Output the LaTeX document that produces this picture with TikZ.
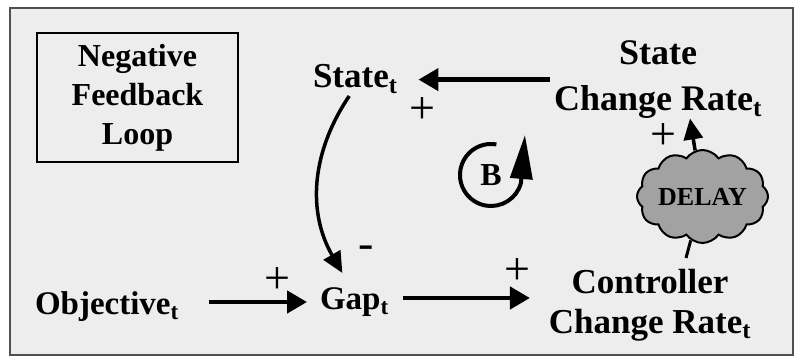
\documentclass[tikz,border=0pt]{standalone}
\usepackage{fontspec}
\setmainfont{Liberation Serif}
\usetikzlibrary{arrows.meta,shapes.symbols}
\definecolor{Panel}{HTML}{EDEDED}
\definecolor{Smoke}{HTML}{A2A2A2}
\definecolor{Rim}{HTML}{505050}
\newcommand{\tsub}{\textsubscript{t}}

\begin{document}
\begin{tikzpicture}[x=1pt,y=1pt,
    lbl/.style={inner sep=0pt,outer sep=0pt,font=\bfseries\fontsize{35}{40}\selectfont},
    sgn/.style={inner sep=0pt,font=\fontsize{46}{46}\selectfont},
    arr/.style={-{Triangle[length=20pt,width=22pt]},line width=4.5pt},
    carr/.style={-{Triangle[length=21pt,width=19pt]},line width=3.5pt}]
  \useasboundingbox (0,0) rectangle (794,358);
  \draw[Rim,line width=1.2pt,fill=Panel] (10,3) rectangle (793,350);
  \node[draw,line width=2pt,minimum width=201pt,minimum height=129pt,align=center,
        font=\bfseries\fontsize{32}{39}\selectfont] (title) at (137.5,260.5) {Negative\\Feedback\\Loop};
  \node[lbl,anchor=base west,text height=23pt,text depth=8pt] (state) at (313,270) {State\tsub};
  \node[lbl,align=center,font=\bfseries\fontsize{36}{46}\selectfont] (scr) at (658,278.4) {State\\Change Rate\tsub};
  \node[lbl,anchor=base west,text height=26pt,text depth=0pt,
        font=\bfseries\fontsize{33}{40}\selectfont] (obj) at (35,43) {Objective\tsub};
  \node[lbl,anchor=base west,text height=24pt,text depth=0pt,
        font=\bfseries\fontsize{33}{40}\selectfont] (gap) at (320,48) {Gap\tsub};
  \node[lbl,align=center] (ctrl) at (650,53) {Controller\\Change Rate\tsub};
  \node[cloud,cloud puffs=12,cloud puff arc=110,cloud ignores aspect,draw,line width=2pt,fill=Smoke,
        minimum width=131pt,minimum height=93pt,inner sep=0pt,
        font=\bfseries\fontsize{26}{26}\selectfont] (delay) at (702.5,161.5) {DELAY};
  \node[inner sep=0pt,font=\bfseries\fontsize{32}{32}\selectfont] (loopb) at (491,183) {B};
  \draw[line width=4pt,-{Triangle[length=44pt,width=22pt]}] (loopb) ++(80:31)
    arc[start angle=80,end angle=345,radius=31] -- ++(4,48);
  \node[sgn] (pst) at (422,247) {+};
  \node[sgn] (pobj) at (277,77) {+};
  \node[sgn] (mgap) at (366,106) {-};
  \node[sgn] (pgap) at (517,86) {+};
  \node[sgn] (pdel) at (663,221) {+};
  \draw[arr,shorten <=4pt,shorten >=21pt] (scr.west) -- (scr.west -| state.east);
  \draw[carr] ([xshift=-6pt]state.south) to[out=236,in=120] ([xshift=-12pt,yshift=13pt]gap.north);
  \draw[arr,shorten <=30pt,shorten >=13pt] (obj.east) -- (obj.east -| gap.west);
  \draw[arr,shorten <=14pt,shorten >=19pt] (gap.east) -- (gap.east -| ctrl.west);
  \draw[line width=3pt] ([xshift=36pt,yshift=11pt]ctrl.north) -- (delay);
  \draw[carr] (delay) -- ([xshift=32pt]scr.south);
\end{tikzpicture}
\end{document}
